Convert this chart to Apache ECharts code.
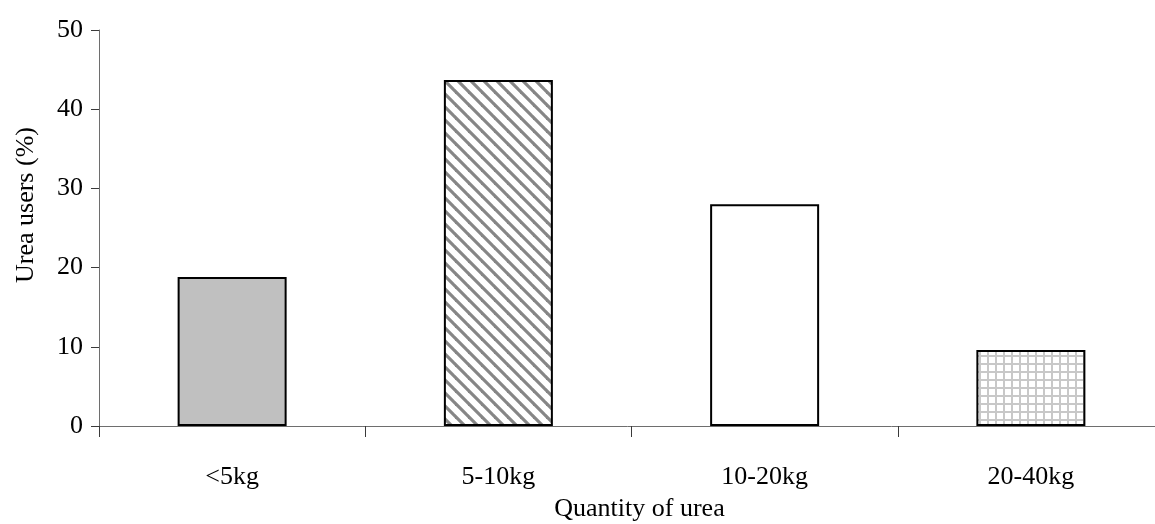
<!DOCTYPE html>
<html>
<head>
<meta charset="utf-8">
<script src="https://cdn.jsdelivr.net/npm/echarts@6/dist/echarts.min.js"></script>
<style>
html,body{margin:0;padding:0;background:#fff;}
#chart{width:1155px;height:524px;}
</style>
</head>
<body>
<div id="chart"></div>
<script>
const categories = ['<5kg', '5-10kg', '10-20kg', '20-40kg'];
const usersPct = [18.8, 43.7, 28.0, 9.6];
const yTicks = [0, 10, 20, 30, 40, 50];

function stripePattern() {
  const s = 13;
  const c = document.createElement('canvas');
  c.width = s; c.height = s;
  const g = c.getContext('2d');
  g.fillStyle = '#ffffff';
  g.fillRect(0, 0, s, s);
  g.strokeStyle = '#868686';
  g.lineWidth = 3.2;
  for (let k = -1; k <= 1; k++) {
    g.beginPath();
    g.moveTo(k * s - 2, -2);
    g.lineTo(k * s + s + 2, s + 2);
    g.stroke();
  }
  return c;
}
function gridPattern() {
  const s = 8;
  const c = document.createElement('canvas');
  c.width = s; c.height = s;
  const g = c.getContext('2d');
  g.fillStyle = '#ffffff';
  g.fillRect(0, 0, s, s);
  g.fillStyle = '#c8c8c8';
  g.fillRect(3, 0, 2, s);
  g.fillRect(0, 3, s, 2);
  return c;
}

const fills = [
  '#c0c0c0',
  { image: stripePattern(), repeat: 'repeat' },
  '#ffffff',
  { image: gridPattern(), repeat: 'repeat' }
];

const chart = echarts.init(document.getElementById('chart'), null, { renderer: 'canvas' });
const font = '"Liberation Serif", "Times New Roman", serif';
chart.setOption({
  animation: false,
  backgroundColor: '#ffffff',
  grid: { left: 99, top: 30, width: 1065, height: 396, containLabel: false, outerBoundsMode: 'none' },
  xAxis: {
    type: 'category',
    data: categories,
    boundaryGap: true,
    name: 'Quantity of urea',
    nameLocation: 'middle',
    nameGap: 70,
    nameTextStyle: { fontFamily: font, fontSize: 26, color: '#000', verticalAlign: 'top', padding: [0, 0, 0, 16] },
    axisLine: { show: true, lineStyle: { color: '#6e6e6e', width: 1 } },
    axisTick: { show: true, alignWithLabel: false, length: 11, lineStyle: { color: '#3a3a3a', width: 1 } },
    axisLabel: { fontFamily: font, fontSize: 26, color: '#000', margin: 38 },
    splitLine: { show: false }
  },
  yAxis: {
    type: 'value',
    min: yTicks[0],
    max: yTicks[yTicks.length - 1],
    interval: 10,
    name: 'Urea users (%)',
    nameLocation: 'middle',
    nameGap: 60,
    nameRotate: 90,
    nameTextStyle: { fontFamily: font, fontSize: 26, color: '#000', padding: [0, 0, 0, 46] },
    axisLine: { show: true, lineStyle: { color: '#6e6e6e', width: 1 } },
    axisTick: { show: true, inside: false, length: 8, lineStyle: { color: '#3a3a3a', width: 1 } },
    axisLabel: { fontFamily: font, fontSize: 26, color: '#000', margin: 16 },
    splitLine: { show: false }
  },
  series: [{
    type: 'bar',
    barWidth: 109,
    data: usersPct.map((v, i) => ({
      value: v,
      itemStyle: { color: fills[i], borderColor: '#000', borderWidth: 2 }
    }))
  }]
});
</script>
</body>
</html>
